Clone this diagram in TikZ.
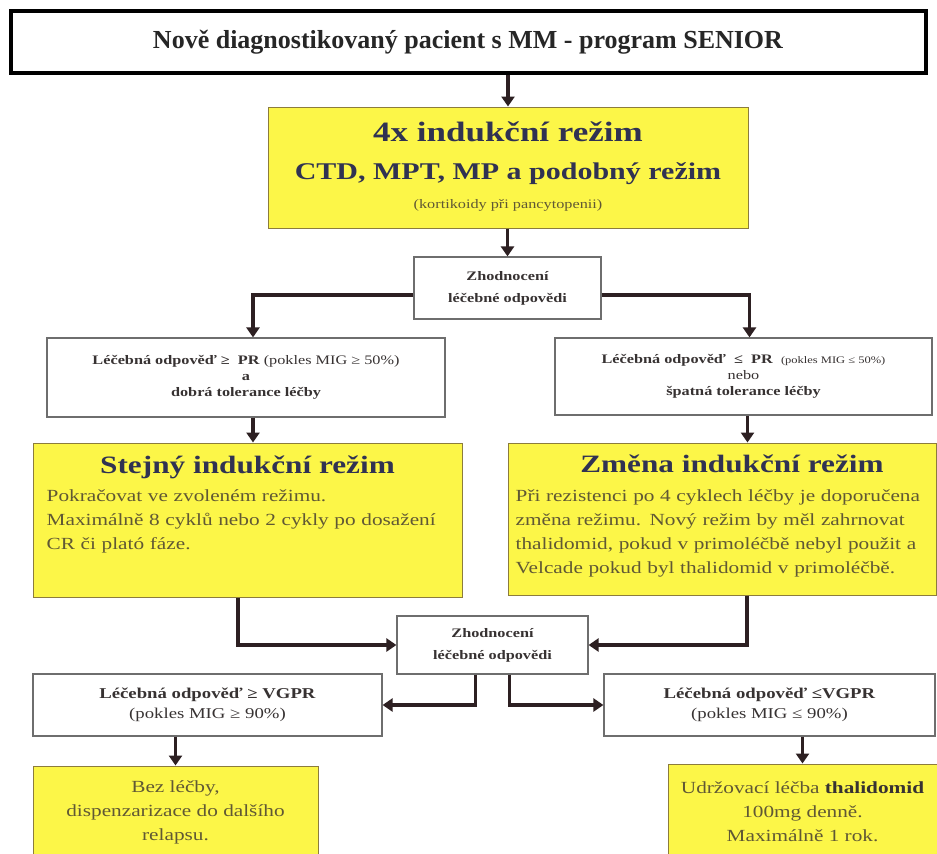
\documentclass[tikz,border=0pt]{standalone}
\usepackage{fontspec}
\setmainfont{Liberation Serif}[FakeStretch=1.25]
\newfontfamily\plainserif{Liberation Serif}
\usetikzlibrary{arrows.meta,positioning}

\definecolor{boxyellow}{RGB}{252,246,72}
\definecolor{yellowedge}{RGB}{140,124,60}
\definecolor{titleblue}{RGB}{48,50,82}
\definecolor{bodyolive}{RGB}{96,88,52}
\definecolor{greytext}{RGB}{55,50,50}
\definecolor{greyedge}{RGB}{110,110,110}
\definecolor{arrowdark}{RGB}{45,32,34}

\begin{document}
\begin{tikzpicture}[x=1pt,y=-1pt,
    inner sep=0pt,
    whitebox/.style={draw=greyedge,line width=1.2pt,fill=white,text=greytext,align=center},
    yellowbox/.style={draw=yellowedge,line width=1pt,fill=boxyellow},
    headtext/.style={text=titleblue,font=\bfseries\fontsize{25}{28}\selectfont},
    bodytext/.style={text=bodyolive,font=\fontsize{17}{24}\selectfont,align=left,text width=420pt},
    arrow/.style={-{Triangle[length=10pt,width=13pt]},draw=arrowdark,line width=3.5pt}
  ]
  \path[fill=white,use as bounding box] (0,0) rectangle (937,854);

  % top of the scheme
  \node[draw=black,line width=4pt,minimum width=915pt,minimum height=62pt,
    text=black!85,font=\plainserif\bfseries\fontsize{26}{30}\selectfont] (title) at (468,42)
    {Nově diagnostikovaný pacient s MM - program SENIOR};
  \node[yellowbox,minimum width=480pt,minimum height=121pt] (ind) at (508,167.5) {};
  \node[headtext,align=center,below=15pt of ind.north] (indtext)
    {{\fontsize{28}{30}\selectfont 4x indukční režim}\\[10pt]
     {\fontsize{24}{26}\selectfont CTD, MPT, MP a podobný režim}\\[1pt]
     {\mdseries\color{bodyolive}\fontsize{13}{14}\selectfont (kortikoidy při pancytopenii)}};
  \node[whitebox,minimum width=187pt,minimum height=62pt,
    font=\bfseries\fontsize{13}{22}\selectfont] (evalone) at (507.5,288)
    {Zhodnocení\\léčebné odpovědi};

  % first response
  \node[whitebox,minimum width=398pt,minimum height=79pt,
    font=\fontsize{13}{16}\selectfont] (goodpr) at (246,377.5)
    {\textbf{Léčebná odpověď ≥\ \ PR} (pokles MIG ≥ 50\%)\\\textbf{a}\\\textbf{dobrá tolerance léčby}};
  \node[whitebox,minimum width=377pt,minimum height=77pt,
    font=\fontsize{13}{16}\selectfont] (badpr) at (743.5,376.5)
    {\textbf{Léčebná odpověď\ \ ≤\ \ PR}\ \ {\fontsize{10}{12}\selectfont (pokles MIG ≤ 50\%)}\\nebo\\\textbf{špatná tolerance léčby}};

  \node[yellowbox,minimum width=429pt,minimum height=154pt] (same) at (247.5,520) {};
  \node[headtext,below=13pt of same.north] (sametitle) {Stejný indukční režim};
  \node[bodytext,below right=47pt and 14pt of same.north west] (samebody)
    {Pokračovat ve zvoleném režimu.\\Maximálně 8 cyklů nebo 2 cykly po dosažení\\CR či plató fáze.};

  \node[yellowbox,minimum width=428pt,minimum height=152pt] (change) at (722,519) {};
  \node[headtext,below=12pt of change.north,xshift=10pt] (changetitle) {Změna indukční režim};
  \node[bodytext,below right=47pt and 8pt of change.north west] (changebody)
    {Při rezistenci po 4 cyklech léčby je doporučena\\změna režimu. Nový režim by měl zahrnovat\\thalidomid, pokud v primoléčbě nebyl použit a\\Velcade pokud byl thalidomid v primoléčbě.};

  % second response
  \node[whitebox,minimum width=191pt,minimum height=58pt,
    font=\bfseries\fontsize{13}{22}\selectfont] (evaltwo) at (492.5,645)
    {Zhodnocení\\léčebné odpovědi};
  \node[whitebox,minimum width=349pt,minimum height=62pt,
    font=\fontsize{15}{20}\selectfont] (vgprgood) at (207.5,705)
    {\textbf{Léčebná odpověď ≥ VGPR}\\(pokles MIG ≥ 90\%)};
  \node[whitebox,minimum width=331pt,minimum height=62pt,
    font=\fontsize{15}{20}\selectfont] (vgprbad) at (769.5,705)
    {\textbf{Léčebná odpověď ≤VGPR}\\(pokles MIG ≤ 90\%)};
  \node[yellowbox,minimum width=285pt,minimum height=93pt,align=center,
    text=bodyolive,font=\fontsize{17}{24}\selectfont] (rest) at (175.5,812.5)
    {Bez léčby,\\dispenzarizace do dalšího\\relapsu.};
  \node[yellowbox,minimum width=269pt,minimum height=95pt,align=center,
    text=bodyolive,font=\fontsize{17}{24}\selectfont] (maint) at (802.5,811.5)
    {Udržovací léčba {\bfseries\color{greytext}thalidomid}\\100mg denně.\\Maximálně 1 rok.};

  \draw[arrow] (ind.north |- title.south) -- (ind.north);
  \draw[arrow] (evalone.north |- ind.south) -- (evalone.north);
  \draw[arrow] ([yshift=-7pt]evalone.west) -| ([xshift=7pt]goodpr.north);
  \draw[arrow] ([yshift=-7pt]evalone.east) -| ([xshift=6pt]badpr.north);
  \draw[arrow] ([xshift=7pt]goodpr.south) -- ([xshift=7pt]goodpr.south |- same.north);
  \draw[arrow] ([xshift=4pt]badpr.south) -- ([xshift=4pt]badpr.south |- change.north);
  \draw[arrow] ([xshift=-9.5pt]same.south) |- (evaltwo.west);
  \draw[arrow] ([xshift=25pt]change.south) |- (evaltwo.east);
  \draw[arrow] ([xshift=-17pt]evaltwo.south) |- (vgprgood.east);
  \draw[arrow] ([xshift=17pt]evaltwo.south) |- (vgprbad.west);
  \draw[arrow] (rest.north |- vgprgood.south) -- (rest.north);
  \draw[arrow] (maint.north |- vgprbad.south) -- (maint.north);
\end{tikzpicture}
\end{document}
